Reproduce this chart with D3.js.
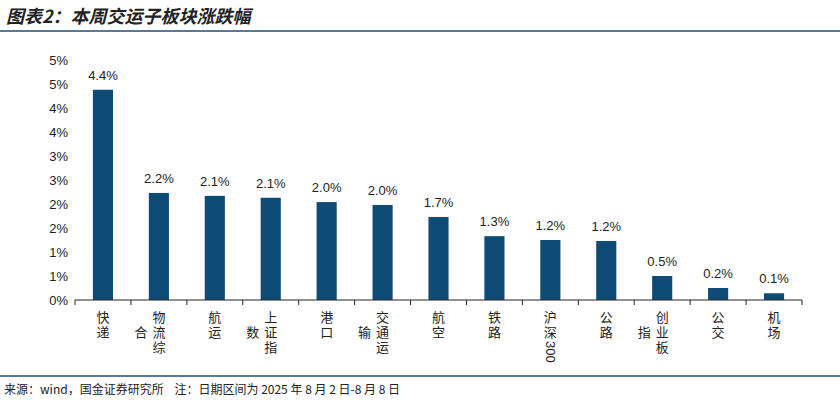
<!DOCTYPE html><html><head><meta charset="utf-8"><script src="https://cdn.jsdelivr.net/npm/d3@7"></script>
<style>body{margin:0;background:#fff}</style></head><body><svg id="c" width="840" height="404"></svg>
<script>
const categories=["快递","物流综合","航运","上证指数","港口","交通运输","航空","铁路","沪深300","公路","创业板指","公交","机场"];
const values=[4.4,2.2,2.1,2.1,2.0,2.0,1.7,1.3,1.2,1.2,0.5,0.2,0.1];
const barValues=[4.38,2.23,2.17,2.13,2.04,1.98,1.73,1.33,1.25,1.23,0.5,0.25,0.14];
const yTicks=[0,0.5,1,1.5,2,2.5,3,3.5,4,4.5,5];
const svg=d3.select("#c");const F="'Noto Sans CJK SC',sans-serif";
svg.append("text").attr("x",6).attr("y",23).attr("font-family",F).attr("font-size",18).attr("font-weight","bold").attr("font-style","italic").attr("fill","#222").text("图表2：本周交运子板块涨跌幅");
svg.append("line").attr("x1",0).attr("x2",840).attr("y1",31).attr("y2",31).attr("stroke","#1f4e79").attr("stroke-width",1.5);
svg.append("line").attr("x1",0).attr("x2",840).attr("y1",376).attr("y2",376).attr("stroke","#1f4e79").attr("stroke-width",1.5);
svg.append("text").attr("x",4).attr("y",394).attr("xml:space","preserve").style("white-space","pre").attr("font-family",F).attr("font-size",12).attr("fill","#222").text("来源：wind，国金证券研究所    注：日期区间为 2025 年 8 月 2 日-8 月 8 日");
const x=d3.scaleBand().domain(categories).range([75,802]).paddingInner(0.64).paddingOuter(0.32);
const y=d3.scaleLinear().domain([0,5]).range([300,60]);
const ya=svg.append("g").attr("transform","translate(75,0)").call(d3.axisLeft(y).tickValues(yTicks).tickSize(0).tickFormat(d=>Math.round(d)+"%"));
ya.select(".domain").remove();ya.selectAll("text").attr("font-family","Arial,'Liberation Sans'").attr("font-size",13).attr("fill","#222").attr("dx",-4);
svg.selectAll("rect.b").data(categories).join("rect").attr("x",d=>x(d)).attr("width",x.bandwidth()).attr("y",(d,i)=>y(barValues[i])).attr("height",(d,i)=>300-y(barValues[i])).attr("fill","#0f4c75");
svg.selectAll("text.v").data(categories).join("text").attr("x",d=>x(d)+x.bandwidth()/2).attr("y",(d,i)=>y(barValues[i])-10).attr("text-anchor","middle").attr("font-family","Arial,'Liberation Sans'").attr("font-size",13).attr("fill","#222").text((d,i)=>values[i].toFixed(1)+"%");
const step=x.step();
svg.append("line").attr("x1",75).attr("x2",802).attr("y1",300).attr("y2",300).attr("stroke","#222");
d3.range(categories.length+1).forEach(i=>{const xx=75+x.step()*x.paddingOuter()-step*x.paddingInner()/2+i*step;svg.append("line").attr("x1",xx).attr("x2",xx).attr("y1",300).attr("y2",305).attr("stroke","#222");});
categories.forEach(c=>{const cx=x(c)+x.bandwidth()/2;let chars;if(c==="沪深300")chars=["沪","深"];else chars=[...c];
 const cols=[chars.slice(0,3),chars.slice(3)];
 cols.forEach((col,ci)=>col.forEach((ch,ri)=>{svg.append("text").attr("x",cx-ci*18).attr("y",322+(ri+ci)*15).attr("text-anchor","middle").attr("font-family",F).attr("font-size",13).attr("fill","#222").text(ch);}));
 if(c==="沪深300"){svg.append("text").attr("transform",`translate(${cx-4},341) rotate(90)`).attr("font-family","Arial,'Liberation Sans'").attr("font-size",13).attr("fill","#222").text("300");}
});
</script></body></html>
